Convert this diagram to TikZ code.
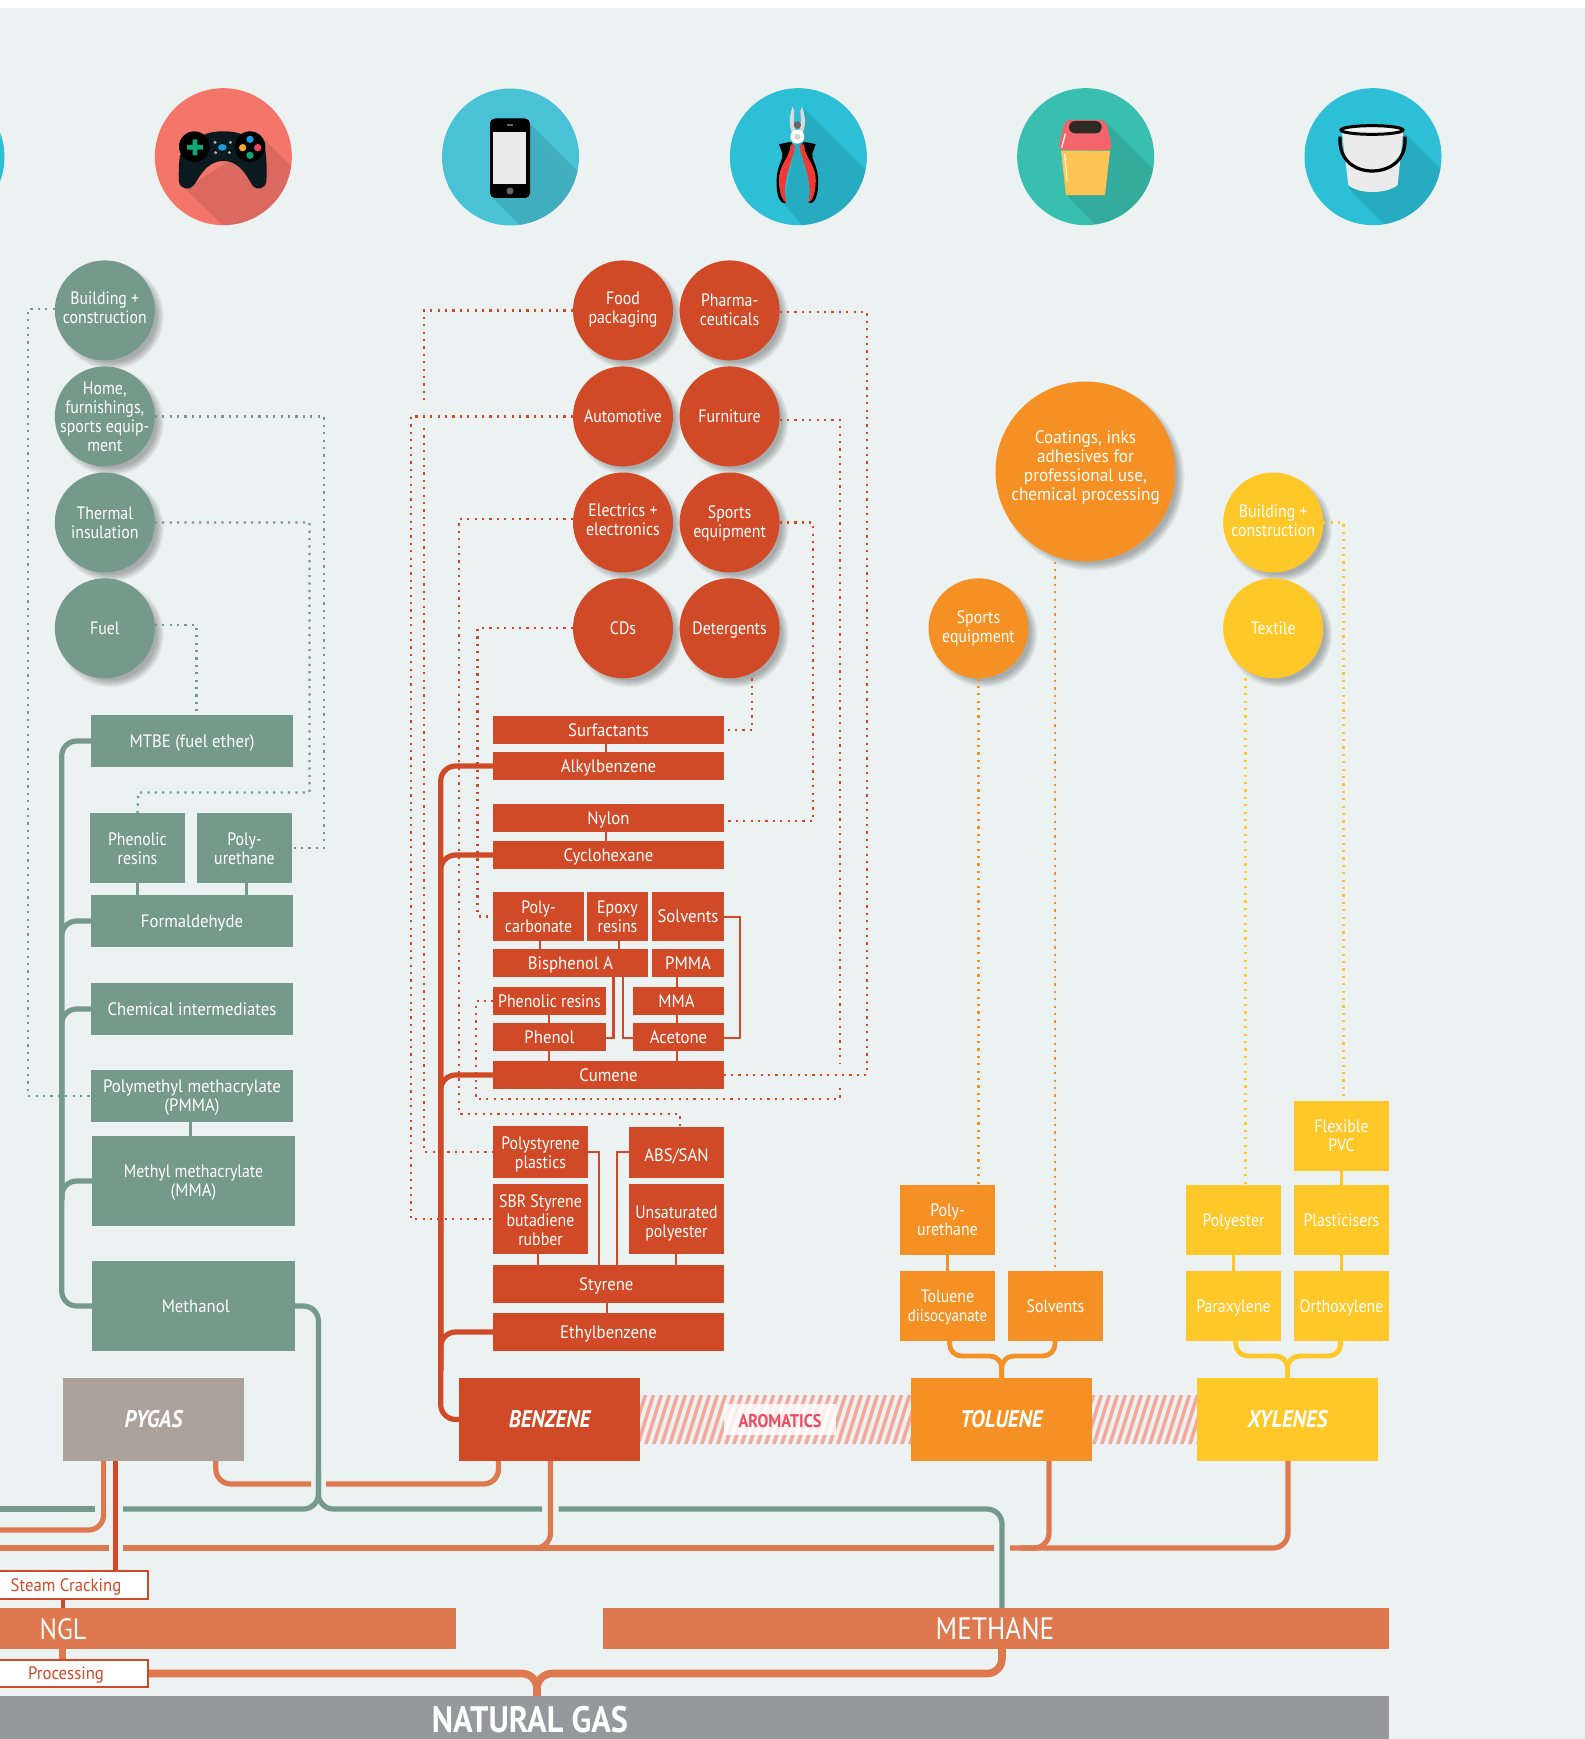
\documentclass[tikz,border=0pt]{standalone}
\usepackage{fontspec}
\setmainfont[FakeStretch=0.88]{PT Sans}
\newfontfamily\midface[FakeStretch=0.93]{PT Sans}
\newfontfamily\wideface[FakeStretch=0.955]{PT Sans}
\usetikzlibrary{calc}
\definecolor{bgc}{HTML}{ECF2F2}
\definecolor{gr}{HTML}{75998A}
\definecolor{rd}{HTML}{D14A27}
\definecolor{og}{HTML}{F59124}
\definecolor{yl}{HTML}{FFC829}
\definecolor{pyg}{HTML}{ABA29C}
\definecolor{bnd}{HTML}{DE784E}
\definecolor{gasc}{HTML}{97989C}
\definecolor{hat}{HTML}{F6A79B}
\definecolor{aro}{HTML}{EF4A5E}
\definecolor{cyanA}{HTML}{2CBFD6}
\definecolor{cyanB}{HTML}{48C2D4}
\definecolor{coral}{HTML}{F4766A}
\definecolor{teal}{HTML}{39BFAF}
\definecolor{binbody}{HTML}{FDC454}
\definecolor{binlid}{HTML}{F4656B}
\definecolor{binslot}{HTML}{2D2A26}
\definecolor{padbody}{HTML}{0A1A1E}
\definecolor{padgreen}{HTML}{0CA678}
\definecolor{padblue}{HTML}{1E9BD7}
\definecolor{padorange}{HTML}{F9A533}
\definecolor{padred}{HTML}{EE4950}
\definecolor{plred}{HTML}{EF3B33}
\definecolor{steel}{HTML}{D8DADB}
\pgfdeclarelayer{back}
\pgfdeclarelayer{lines}
\pgfsetlayers{back,lines,main}
\tikzset{
  lab/.style={text=white,align=center,inner sep=0pt,outer sep=0pt,font=\fontsize{9}{9.5}\selectfont},
  circ/.style={lab,circle,inner sep=-8pt},
  rct/.style={lab,rectangle,font=\midface\fontsize{9}{9.5}\selectfont},
  head/.style={lab,font=\fontsize{12}{13}\selectfont\bfseries\itshape},
  dotl/.style={line width=1.15pt,dash pattern=on 1.1pt off 2.6pt},
  trunk/.style={line width=2.6pt,rounded corners=7.5pt},
  fine/.style={line width=1.3pt},
  link/.style={line width=2.4pt,rounded corners=6pt},
  feed/.style={line width=2.6pt,rounded corners=7.5pt,draw=bnd},
  flowbox/.style={rct,fill=white,draw=rd,line width=1pt,text=rd},
  iconscope/.style={x=0.16667pt,y=-0.16667pt},
}
\newcommand{\lift}[1]{\rule[-#1]{0pt}{#1}}
\newcommand{\cnd}[6]{%
  \begin{pgfonlayer}{back}
    \foreach \k in {0,...,7}{\fill[black,opacity=.04] (#2+6,#3+6) circle ({#4+3-\k});}
  \end{pgfonlayer}
  \node[circ,fill=#5,minimum size={#4*1pt}] (#1) at (#2,#3) {\rule{0pt}{8.3pt}#6\rule[-2pt]{0pt}{2pt}};}
\newcommand{\rnd}[7]{%
  \node[rct,fill=#6,minimum width={(#4-#2)*0.5pt},minimum height={(#5-#3)*0.5pt}] (#1) at ({(#2+#4)/2},{(#3+#5)/2}) {\rule{0pt}{8.3pt}#7\rule[-2pt]{0pt}{2pt}};}
\newcommand{\plierhalf}{%
  \fill[black] (162,178) .. controls (175,175) and (190,170) .. (200,172) -- (205,185) .. controls (195,240) and (165,280) .. (183,353) .. controls (165,360) and (152,330) .. (155,280) .. controls (157,240) and (175,225) .. (172,205) -- cycle;
  \fill[plred] (197,178) -- (210,180) .. controls (205,230) and (170,280) .. (183,352) .. controls (168,345) and (160,310) .. (162,275) .. controls (165,240) and (195,215) .. (197,178) -- cycle;
  \fill[steel] (203,65) .. controls (190,100) and (192,130) .. (205,150) -- (214,140) .. controls (205,125) and (206,95) .. (208,80) -- cycle;}
\begin{document}
\begin{tikzpicture}[x=0.5pt,y=-0.5pt]
\useasboundingbox (0,0) rectangle (1584,1739);
\begin{pgfonlayer}{back}
\fill[bgc] (0,8) rectangle (1600,1750);
\end{pgfonlayer}

% ---- pictograms
\fill[cyanA] (-64,157) circle (68.5);
% controller
\begin{scope}[shift={(150,85)},iconscope]
  \fill[coral] (220,215) circle (205.5);
  \begin{scope}
    \clip (220,215) circle (205.5);
    \fill[black,opacity=.1] (345,165) -- (545,365) -- (310,510) -- (105,310) -- cycle;
  \end{scope}
  \fill[padbody] (160,150) .. controls (190,135) and (250,135) .. (280,150) -- (345,190) .. controls (352,230) and (350,270) .. (349,290) .. controls (345,312) and (320,318) .. (308,302) .. controls (295,285) and (275,228) .. (220,228) .. controls (165,228) and (145,285) .. (130,302) .. controls (118,318) and (90,312) .. (87,290) .. controls (85,260) and (87,230) .. (90,210) -- cycle;
  \fill[black] (133,185) circle (46) (300,185) circle (46);
  \fill[padgreen] (111,180) rectangle (159,194) (128,163) rectangle (142,211);
  \fill[padblue] (300,163) circle (11);
  \fill[padorange] (278,188) circle (11);
  \fill[padred] (323,188) circle (11);
  \fill[padgreen] (300,211) circle (11);
  \fill[padblue] (217,187) ellipse (13 and 10);
  \fill[gray!60] (195,172) circle (5) (241,172) circle (5) (197,203) circle (5) (238,203) circle (5);
\end{scope}
% phone
\fill[cyanB] (510.5,157) circle (68.5);
\begin{scope}
  \clip (510.5,157) circle (68.5);
  \fill[black,opacity=.1] (530,124) -- (630,224) -- (592,297) -- (492,197) -- cycle;
\end{scope}
\fill[black,rounded corners=2.5pt] (490,118.5) rectangle (530,198);
\fill[black!8] (493,132) rectangle (526,184);
\fill[black!60] (510,191) circle (3.5);
\fill[black!60] (507,124.5) rectangle (513,125.7);
% pliers
\begin{scope}[shift={(725,85)},iconscope]
  \fill[cyanA] (220,215) circle (205.5);
  \begin{scope}
    \clip (220,215) circle (205.5);
    \fill[black,opacity=.1] (235,68) -- (435,268) -- (300,500) -- (175,355) -- cycle;
  \end{scope}
  \plierhalf
  \begin{scope}[cm={-1,0,0,1,(434,0)}]
    \plierhalf
  \end{scope}
  \fill[black!60] (217,120) circle (11);
  \fill[white] (217,155) circle (21);
  \fill[black!18] (217,155) circle (9);
\end{scope}
% bin
\begin{scope}[shift={(1015,85)},iconscope]
  \fill[teal] (212,215) circle (205.5);
  \begin{scope}
    \clip (212,215) circle (205.5);
    \fill[black,opacity=.1] (272,110) -- (472,310) -- (353,530) -- (153,330) -- cycle;
  \end{scope}
  \fill[binbody] (138,197) -- (285,197) -- (270,330) -- (153,330) -- cycle;
  \fill[binlid,rounded corners=3pt] (150,105) -- (272,105) -- (293,195) -- (128,195) -- cycle;
  \fill[binslot,rounded corners=3pt] (162,108) rectangle (260,145);
  \fill[white] (149,146) -- (153,146) -- (142,188) -- (138,188) -- cycle;
  \fill[white,opacity=.85] (147,205) -- (151,205) -- (158,290) -- (155,290) -- cycle;
\end{scope}
% bucket
\begin{scope}[shift={(1300,85)},iconscope]
  \fill[cyanA] (219,215) circle (205.5);
  \begin{scope}
    \clip (219,215) circle (205.5);
    \fill[black,opacity=.1] (310,140) -- (510,340) -- (345,510) -- (145,310) -- cycle;
  \end{scope}
  \fill[black!8] (125,135) -- (310,135) -- (293,300) .. controls (260,328) and (175,328) .. (145,300) -- cycle;
  \draw[black,line width=1.6pt] (120,155) .. controls (115,230) and (170,258) .. (216,258) .. controls (265,258) and (320,230) .. (315,155);
  \draw[black,line width=1.5pt,fill=black!5] (216,135) ellipse (93 and 13);
\end{scope}

% ---- circles
\cnd{gbuild}{104.8}{310.4}{50}{gr}{Building +\\construction\lift{5pt}}
\cnd{ghome}{104.8}{416.4}{50}{gr}{Home,\\furnishings,\\sports equip-\\ment}
\cnd{gtherm}{104.8}{522.5}{50}{gr}{Thermal\\insulation}
\cnd{gfuel}{104.8}{628.3}{50}{gr}{Fuel}
\cnd{food}{623}{310.4}{50}{rd}{Food\\packaging\lift{5pt}}
\cnd{pharma}{729.6}{310.4}{50}{rd}{Pharma-\\ceuticals\lift{3pt}}
\cnd{auto}{623}{416.4}{50}{rd}{Automotive}
\cnd{furn}{729.6}{416.4}{50}{rd}{Furniture}
\cnd{elec}{623}{522.5}{50}{rd}{Electrics +\\electronics\lift{4.7pt}}
\cnd{rsport}{729.6}{522.5}{50}{rd}{Sports\\equipment\lift{3pt}}
\cnd{cds}{623}{628.3}{50}{rd}{CDs}
\cnd{deter}{729.6}{628.3}{50}{rd}{Detergents}
\cnd{coat}{1085.5}{471.5}{90}{og}{\wideface Coatings, inks\\\wideface adhesives for\\\wideface professional use,\\\wideface chemical processing\lift{8pt}}
\cnd{osport}{978.5}{628.3}{50}{og}{Sports\\equipment\lift{3.5pt}}
\cnd{ybuild}{1273.2}{522.5}{50}{yl}{Building +\\construction\lift{3.5pt}}
\cnd{ytex}{1273.2}{628.3}{50}{yl}{Textile}

% ---- green column
\rnd{mtbe}{91}{715}{293}{767}{gr}{MTBE (fuel ether)}
\rnd{gphen}{90}{813}{185}{883}{gr}{\normalfont\rule{0pt}{9.3pt}Phenolic\\\normalfont resins}
\rnd{gpoly}{197}{813}{292}{883}{gr}{\normalfont\rule{0pt}{9.3pt}Poly-\\\normalfont urethane}
\rnd{form}{91}{895}{293}{947}{gr}{Formaldehyde}
\rnd{chem}{91}{983}{293}{1035}{gr}{Chemical intermediates}
\rnd{gpmma}{91}{1070}{293}{1122}{gr}{Polymethyl methacrylate\\(PMMA)}
\rnd{gmma}{92}{1136}{295}{1226}{gr}{\normalfont Methyl methacrylate\\(MMA)}
\rnd{methanol}{92}{1261}{295}{1351}{gr}{\hspace*{2.2pt}Methanol}
\rnd{pygas}{63}{1378}{244}{1461}{pyg}{}
\node[head] (pygaslab) at (153.5,1419) {PYGAS};

% ---- red column
\rnd{surf}{493}{716}{724}{744}{rd}{Surfactants}
\rnd{alky}{493}{752}{724}{780}{rd}{Alkylbenzene}
\rnd{nylon}{493}{804}{724}{832}{rd}{Nylon}
\rnd{cyclo}{493}{841}{724}{869}{rd}{Cyclohexane}
\rnd{pcarb}{493}{892}{584}{941}{rd}{\normalfont Poly-\\\normalfont carbonate}
\rnd{epoxy}{587}{892}{648}{941}{rd}{\normalfont Epoxy\\\normalfont resins}
\rnd{rsolv}{652}{892}{724}{941}{rd}{Solvents}
\rnd{bisa}{493}{949}{648}{977}{rd}{Bisphenol A}
\rnd{rpmma}{652}{949}{724}{977}{rd}{PMMA}
\rnd{rphen}{493}{987}{606}{1015}{rd}{\normalfont Phenolic resins}
\rnd{rmma}{633}{987}{724}{1015}{rd}{MMA\hspace*{2pt}}
\rnd{phenol}{493}{1023}{606}{1051}{rd}{Phenol}
\rnd{acet}{633}{1023}{724}{1051}{rd}{Acetone}
\rnd{cumene}{493}{1061}{724}{1089}{rd}{Cumene}
\rnd{pstyr}{493}{1126}{588}{1178}{rd}{\normalfont\rule{0pt}{9.4pt}Polystyrene\\\normalfont plastics}
\rnd{abs}{629}{1127}{724}{1178}{rd}{\rule{0pt}{10.5pt}ABS/SAN}
\rnd{sbr}{493}{1184}{588}{1254}{rd}{\normalfont\rule{0pt}{9.4pt}SBR Styrene\\\normalfont butadiene\\\normalfont rubber}
\rnd{upoly}{629}{1184}{724}{1254}{rd}{\normalfont\rule{0pt}{10.5pt}Unsaturated\\\normalfont polyester}
\rnd{styr}{493}{1265}{724}{1303}{rd}{Styrene\hspace*{2.2pt}}
\rnd{ebenz}{493}{1313}{724}{1351}{rd}{Ethylbenzene}
\rnd{benz}{459}{1378}{640}{1461}{rd}{}
\node[head] (benzlab) at (549.5,1419) {BENZENE};

% ---- orange and yellow columns
\rnd{opoly}{900}{1185}{995}{1255}{og}{\normalfont Poly-\\\normalfont urethane}
\rnd{tdi}{900}{1271}{995}{1341}{og}{\normalfont Toluene\\\normalfont\fontsize{8.5}{9.5}\selectfont diisocyanate}
\rnd{osolv}{1008}{1271}{1103}{1341}{og}{\normalfont Solvents}
\rnd{tol}{911}{1378}{1092}{1461}{og}{}
\node[head] (tollab) at (1001.5,1419) {TOLUENE};
\rnd{flex}{1294}{1101}{1389}{1171}{yl}{\normalfont Flexible\\\normalfont PVC}
\rnd{polyest}{1186}{1185}{1281}{1255}{yl}{\normalfont Polyester}
\rnd{plast}{1294}{1185}{1389}{1255}{yl}{\normalfont Plasticisers}
\rnd{para}{1186}{1271}{1281}{1341}{yl}{\normalfont Paraxylene}
\rnd{ortho}{1294}{1271}{1389}{1341}{yl}{\normalfont Orthoxylene}
\rnd{xyl}{1197}{1378}{1378}{1461}{yl}{}
\node[head] (xyllab) at (1287.5,1419) {XYLENES};

% ---- bottom bands
\rnd{ngl}{-10}{1608}{456}{1649}{bnd}{}
\rnd{meth}{603}{1608}{1389}{1649}{bnd}{}
\rnd{gas}{-10}{1696}{1389}{1745}{gasc}{}
\node[lab,font=\fontsize{14.7}{15}\selectfont] (ngllab) at (63,1629) {NGL};
\node[lab,font=\fontsize{15.5}{16}\selectfont] (methlab) at (995,1629) {METHANE};
\node[lab,font=\fontsize{18.4}{19}\selectfont\bfseries] (gaslab) at (530,1719.5) {NATURAL GAS};
\node[flowbox,minimum width=82pt,minimum height=14pt] (steam) at (66,1585) {\rule{0pt}{8.3pt}Steam Cracking};
\node[flowbox,minimum width=82pt,minimum height=13.5pt] (proc) at (66,1673.5) {\rule{0pt}{8.3pt}Processing};

% ---- aromatics band
\begin{scope}
  \clip (640,1395) rectangle (911,1444) (1092,1395) rectangle (1197,1444);
  \foreach \h in {620,628,...,1200}{\draw[hat,line width=1.75pt] (\h,1450) -- (\h+19,1390);}
\end{scope}
\node[lab,rectangle,fill=white,fill opacity=.8,text opacity=1,text=aro,minimum width=56pt,minimum height=15.5pt,font=\fontsize{9.2}{9.5}\selectfont\bfseries] (arom) at (780,1419.5) {\rule{0pt}{8.5pt}AROMATICS};

\coordinate (gtrunk) at (61.7,1200);
\coordinate (rtrunk) at (440.7,1370);
\coordinate (fa) at (424,401.7);
\coordinate (fb) at (424,428);
\coordinate (fc) at (840,1063);
\coordinate (fd) at (840,1088);
\coordinate (pl) at (0,1530);
\coordinate (gl0) at (0,1509);
\coordinate (gl1) at (95.4,1509);
\coordinate (gl2) at (123,1509);
\coordinate (gl3) at (542,1509);
\coordinate (gl4) at (558.7,1509);
\coordinate (gv) at (318.4,1470);
\coordinate (ol0) at (0,1548);
\coordinate (ol1) at (109,1548);
\coordinate (ol2) at (123,1548);
\coordinate (ol3) at (994,1548);
\coordinate (ol4) at (1010,1548);
\coordinate (ob) at (500,1548);
\coordinate (ot) at (1020,1548);
\coordinate (hl1) at (311,1484);
\coordinate (hl2) at (326,1484);
\coordinate (gastop) at (537,1696);
\coordinate (gasj) at (700,1673.5);
\coordinate (tj) at (975,1356);
\coordinate (tk) at (1030,1356);
\coordinate (xj) at (1260,1356);
\coordinate (xk) at (1315,1356);

\begin{pgfonlayer}{lines}
% green dotted
\draw[gr,dotl] (gbuild.west |- 0,309) -| (28,700) |- (gpmma.west);
\draw[gr,dotl] (ghome.east) -| (324,700) |- (gpoly.east);
\draw[gr,dotl] (gtherm.east) -| (309.5,700) |- (138.3,792.4) -- (gphen.north);
\draw[gr,dotl] (gfuel.east |- 0,625) -| (mtbe.north -| 196.4,0);
% red dotted
\draw[rd,dotl] (food.west) -| (fa);
\draw[rd,dotl] (fb) |- (pstyr.west);
\draw[rd,dotl] (auto.west) -| (410.7,800) |- (sbr.west);
\draw[rd,dotl] (elec.west |- 0,519) -| (459,800) |- (680,1114) -- (abs.north -| 680,0);
\draw[rd,dotl] (cds.west) -| (477.5,800) |- (pcarb.west);
\draw[rd,dotl] (deter.south -| 752,0) |- (surf.east);
\draw[rd,dotl] (rsport.east) -| (813,700) |- (nylon.east |- 0,821);
\draw[rd,dotl] (furn.east |- 0,420) -| (fc);
\draw[rd,dotl] (fd) |- (476,1099) |- (rphen.west);
\draw[rd,dotl] (pharma.east |- 0,312) -| (867,700) |- (cumene.east);
% orange and yellow dotted
\draw[og,dotl] (osport.south) -- (osport.south |- opoly.north);
\draw[og,dotl] (coat.south -| 1055.3,0) -- (osolv.north -| 1055.3,0);
\draw[yl,dotl] (ybuild.east) -| (flex.north -| 1343.5,0);
\draw[yl,dotl] (ytex.south -| 1245.5,0) -- (polyest.north -| 1245.5,0);

% green solid
\draw[gr,trunk] (mtbe.west) -| (gtrunk) |- (methanol.west);
\draw[gr,trunk] (form.west) -| (gtrunk);
\draw[gr,trunk] (chem.west) -| (gtrunk);
\draw[gr,trunk] (gmma.west) -| (gtrunk);
\draw[gr,fine,line width=1.6pt] (gphen.south -| 137.5,0) -- (form.north -| 137.5,0);
\draw[gr,fine,line width=1.6pt] (gpoly.south -| 246.5,0) -- (form.north -| 246.5,0);
\draw[gr,fine,line width=1.6pt] (gpmma.south -| 190.5,0) -- (gmma.north -| 190.5,0);
\draw[gr,trunk] (methanol.east) -| (gv) |- (gl2);
\draw[gr,trunk] (gv) |- (gl3);
\draw[gr,trunk] (gl1) -- (gl0);
\draw[gr,trunk] (gl4) -| (meth.north -| 1002,0);

% red solid
\draw[rd,trunk] (alky.west) -| (rtrunk) |- (benz.west);
\draw[rd,trunk] (cyclo.west) -| (rtrunk);
\draw[rd,trunk] (cumene.west) -| (rtrunk);
\draw[rd,trunk] (ebenz.west) -| (rtrunk);
\draw[rd,fine] (surf.south -| 606,0) -- (alky.north -| 606,0);
\draw[rd,fine] (nylon.south -| 606,0) -- (cyclo.north -| 606,0);
\draw[rd,fine] (pcarb.south -| 540,0) -- (bisa.north -| 540,0);
\draw[rd,fine] (epoxy.south -| 619,0) -- (bisa.north -| 619,0);
\draw[rd,fine] (rpmma.south -| 677,0) -- (rmma.north -| 677,0);
\draw[rd,fine] (rmma.south -| 677,0) -- (acet.north -| 677,0);
\draw[rd,fine] (acet.south -| 677,0) -- (cumene.north -| 677,0);
\draw[rd,fine] (rphen.south -| 549,0) -- (phenol.north -| 549,0);
\draw[rd,fine] (phenol.south -| 549,0) -- (cumene.north -| 549,0);
\draw[rd,fine] (bisa.south -| 613.7,0) |- (phenol.east |- 0,1038);
\draw[rd,fine] (bisa.south -| 623,0) |- (acet.west |- 0,1038);
\draw[rd,fine] (rsolv.east |- 0,917) -| (740,1000) |- (acet.east |- 0,1038);
\draw[rd,fine] (sbr.south -| 538,0) -- (styr.north -| 538,0);
\draw[rd,fine] (upoly.south -| 676,0) -- (styr.north -| 676,0);
\draw[rd,fine] (pstyr.east) -| (styr.north -| 599,0);
\draw[rd,fine] (abs.west |- 0,1152) -| (styr.north -| 617,0);
\draw[rd,fine] (styr.south -| 607,0) -- (ebenz.north -| 607,0);

% orange and yellow solid
\draw[og,fine,line width=1.5pt] (opoly.south -| 947.7,0) -- (tdi.north -| 947.7,0);
\draw[og,link] (tdi.south -| 949.6,0) |- (tj) -| (tol.north -| 1001.7,0);
\draw[og,link] (osolv.south -| 1055,0) |- (tk) -| (tol.north -| 1001.7,0);
\draw[yl,fine,line width=1.5pt] (flex.south -| 1341.5,0) -- (plast.north -| 1341.5,0);
\draw[yl,fine,line width=1.5pt] (plast.south -| 1341.5,0) -- (ortho.north -| 1341.5,0);
\draw[yl,fine,line width=1.5pt] (polyest.south -| 1233,0) -- (para.north -| 1233,0);
\draw[yl,link] (para.south -| 1235.8,0) |- (xj) -| (xyl.north -| 1287.5,0);
\draw[yl,link] (ortho.south -| 1340.6,0) |- (xk) -| (xyl.north -| 1287.5,0);

% feed lines
\draw[feed] (pygas.south -| 103.6,0) |- (pl);
\draw[feed] (pygas.south -| 215.8,0) |- (hl1);
\draw[feed] (hl2) -| (benz.south -| 498.5,0);
\draw[feed] (benz.south -| 550.5,0) |- (ob);
\draw[feed] (ol0) -- (ol1);
\draw[feed] (ol2) -- (ol3);
\draw[feed] (ol4) -| (xyl.south -| 1288,0);
\draw[feed] (tol.south -| 1049,0) |- (ot);
\draw[rd,line width=2.4pt] (pygas.south -| 115.3,0) -- (steam.north -| 115.3,0);
\draw[rd,line width=2.4pt] (steam.south -| 63,0) -- (ngl.north -| 63,0);
\draw[bnd,line width=3.5pt] (ngl.south -| 62,0) -- (proc.north -| 62,0);
\draw[feed,line width=3.8pt] (proc.east) -| (gastop);
\draw[feed,line width=3.8pt] (meth.south -| 1002,0) |- (gasj) -| (gastop);
\end{pgfonlayer}
\end{tikzpicture}
\end{document}
